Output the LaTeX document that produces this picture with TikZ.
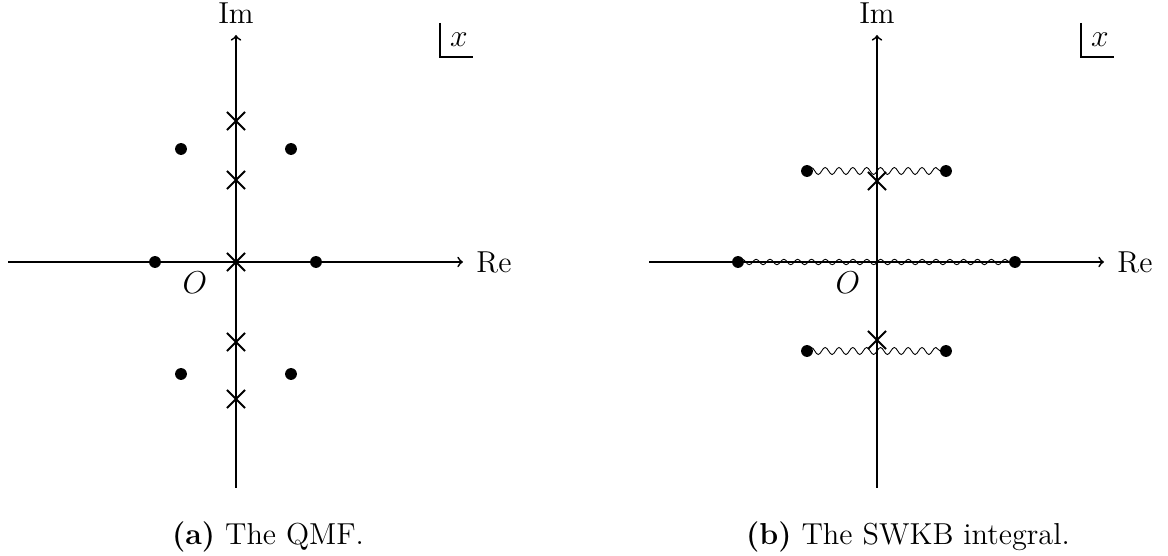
\documentclass[tikz,border=0pt]{standalone}
\usepackage{amsmath}
\usetikzlibrary{positioning,shapes.misc,decorations.pathmorphing}

\begin{document}
\begin{tikzpicture}[
  x=0.016cm,y=0.016cm,
  font=\fontsize{13.8pt}{16pt}\selectfont,
  dot/.style={circle,fill=black,inner sep=0pt,minimum size=5.4pt},
  pole/.style={cross out,draw=black,line width=0.85pt,inner sep=0pt,minimum size=7.4pt},
  ax/.style={->,line width=0.8pt},
  wig/.style={decorate,decoration={snake,amplitude=1.6pt,segment length=6.3pt}},
  wigs/.style={decorate,decoration={snake,amplitude=1.25pt,segment length=6.3pt}},
]
\useasboundingbox (0,0) rectangle (1168,556);
% panel (a): axes, labels and the x box
\coordinate (aW) at (8,294);   \coordinate (aE) at (463,294);
\coordinate (aS) at (236,68);  \coordinate (aN) at (236,521);
\draw[ax] (aW) -- (aE);
\draw[ax] (aS) -- (aN);
\node[anchor=west,inner sep=0pt] (aRe) at (476,294) {Re};
\node (aIm) at (236,543) {Im};
\node (aO) at (195,273) {$O$};
\coordinate (aBt) at (440,533); \coordinate (aBc) at (440,499); \coordinate (aBr) at (473,499);
\draw[line width=0.8pt] (aBt) -- (aBc) -- (aBr);
\node (aX) at (459,516) {$x$};
% panel (a): branch points and poles
\node[dot] (aA1) at (181,407) {}; \node[dot] (aA2) at (291,407) {};
\node[dot] (aB1) at (155,294) {}; \node[dot] (aB2) at (316,294) {};
\node[dot] (aC1) at (181,182) {}; \node[dot] (aC2) at (291,182) {};
\foreach \y [count=\i] in {435,376,294,214,157}
  \node[pole] (aP\i) at (236,\y) {};
\node (capA) at (268,19) {\textbf{(a)} The QMF.};
% panel (b): axes, labels and the x box
\coordinate (bW) at (649,294);  \coordinate (bE) at (1104,294);
\coordinate (bS) at (877,68);   \coordinate (bN) at (877,521);
\draw[ax] (bW) -- (bE);
\draw[ax] (bS) -- (bN);
\node[anchor=west,inner sep=0pt] (bRe) at (1117,294) {Re};
\node (bIm) at (877,543) {Im};
\node (bO) at (848,273) {$O$};
\coordinate (bBt) at (1081,533); \coordinate (bBc) at (1081,499); \coordinate (bBr) at (1114,499);
\draw[line width=0.8pt] (bBt) -- (bBc) -- (bBr);
\node (bX) at (1100,516) {$x$};
% panel (b): cuts between the turning points
\node[dot] (bA1) at (807,385) {}; \node[dot] (bA2) at (946,385) {};
\node[dot] (bB1) at (738,294) {}; \node[dot] (bB2) at (1015,294) {};
\node[dot] (bC1) at (807,205) {}; \node[dot] (bC2) at (946,205) {};
\node[pole] (bP1) at (877,375) {};
\node[pole] (bP2) at (877,216) {};
\draw[wig] (bA1.center) -- (bA2.center);
\draw[wigs] (bB1.center) -- (bB2.center);
\draw[wig] (bC1.center) -- (bC2.center);
\node (capB) at (908,19) {\textbf{(b)} The SWKB integral.};
\end{tikzpicture}
\end{document}
